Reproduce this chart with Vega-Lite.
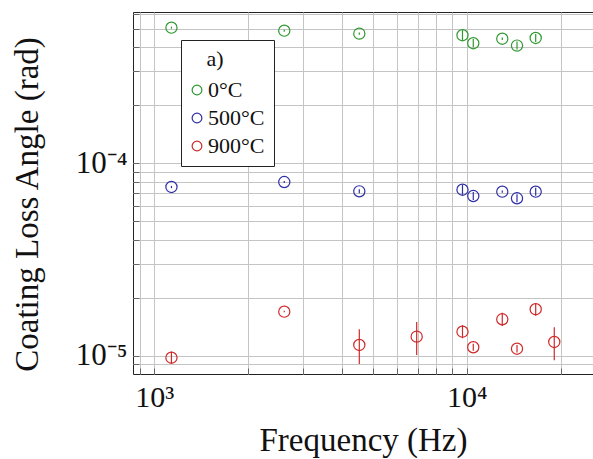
{
  "$schema": "https://vega.github.io/schema/vega-lite/v6.json",
  "width": 460,
  "height": 362,
  "autosize": "none",
  "padding": {"left": 133, "top": 12, "right": 0, "bottom": 85},
  "background": "white",
  "config": {
    "view": {"stroke": "#222222", "strokeWidth": 1},
    "font": "Liberation Serif"
  },
  "data": {
    "values": [
      {"temp": "0°C", "freq": 1135, "loss": 5.07e-4, "lo": 5.01e-4, "hi": 5.13e-4},
      {"temp": "0°C", "freq": 2607, "loss": 4.89e-4, "lo": 4.83e-4, "hi": 4.95e-4},
      {"temp": "0°C", "freq": 4532, "loss": 4.72e-4, "lo": 4.66e-4, "hi": 4.78e-4},
      {"temp": "0°C", "freq": 9696, "loss": 4.63e-4, "lo": 4.36e-4, "hi": 4.92e-4},
      {"temp": "0°C", "freq": 10498, "loss": 4.21e-4, "lo": 4.01e-4, "hi": 4.42e-4},
      {"temp": "0°C", "freq": 13000, "loss": 4.44e-4, "lo": 4.38e-4, "hi": 4.50e-4},
      {"temp": "0°C", "freq": 14490, "loss": 4.09e-4, "lo": 3.90e-4, "hi": 4.29e-4},
      {"temp": "0°C", "freq": 16630, "loss": 4.48e-4, "lo": 4.27e-4, "hi": 4.70e-4},
      {"temp": "500°C", "freq": 1135, "loss": 7.53e-5, "lo": 7.43e-5, "hi": 7.63e-5},
      {"temp": "500°C", "freq": 2607, "loss": 7.99e-5, "lo": 7.89e-5, "hi": 8.09e-5},
      {"temp": "500°C", "freq": 4532, "loss": 7.15e-5, "lo": 6.98e-5, "hi": 7.32e-5},
      {"temp": "500°C", "freq": 9696, "loss": 7.29e-5, "lo": 6.86e-5, "hi": 7.74e-5},
      {"temp": "500°C", "freq": 10498, "loss": 6.76e-5, "lo": 6.44e-5, "hi": 7.09e-5},
      {"temp": "500°C", "freq": 13000, "loss": 7.12e-5, "lo": 7.03e-5, "hi": 7.21e-5},
      {"temp": "500°C", "freq": 14490, "loss": 6.58e-5, "lo": 6.27e-5, "hi": 6.90e-5},
      {"temp": "500°C", "freq": 16630, "loss": 7.12e-5, "lo": 6.79e-5, "hi": 7.47e-5},
      {"temp": "900°C", "freq": 1135, "loss": 9.76e-6, "lo": 9.13e-6, "hi": 1.05e-5},
      {"temp": "900°C", "freq": 2607, "loss": 1.693e-5, "lo": 1.68e-5, "hi": 1.71e-5},
      {"temp": "900°C", "freq": 4532, "loss": 1.137e-5, "lo": 9.05e-6, "hi": 1.372e-5},
      {"temp": "900°C", "freq": 6918, "loss": 1.256e-5, "lo": 1.008e-5, "hi": 1.497e-5},
      {"temp": "900°C", "freq": 9696, "loss": 1.333e-5, "lo": 1.232e-5, "hi": 1.444e-5},
      {"temp": "900°C", "freq": 10498, "loss": 1.106e-5, "lo": 1.06e-5, "hi": 1.155e-5},
      {"temp": "900°C", "freq": 13000, "loss": 1.546e-5, "lo": 1.427e-5, "hi": 1.673e-5},
      {"temp": "900°C", "freq": 14490, "loss": 1.087e-5, "lo": 1.04e-5, "hi": 1.135e-5},
      {"temp": "900°C", "freq": 16630, "loss": 1.743e-5, "lo": 1.614e-5, "hi": 1.872e-5},
      {"temp": "900°C", "freq": 19070, "loss": 1.178e-5, "lo": 9.46e-6, "hi": 1.405e-5}
    ]
  },
  "encoding": {
    "x": {
      "field": "freq",
      "type": "quantitative",
      "scale": {"type": "log", "domain": [855, 25370], "nice": false},
      "axis": {
        "values": [900, 1000, 2000, 3000, 4000, 5000, 6000, 7000, 8000, 9000, 10000, 20000],
        "labelExpr": "datum.value == 1000 ? '10³' : (datum.value == 10000 ? '10⁴' : '')",
        "grid": true,
        "gridColor": "#c4c4c4",
        "gridWidth": 1,
        "ticks": true,
        "tickSize": -6,
        "tickColor": "#666666",
        "tickWidth": 1,
        "domain": false,
        "labelFont": "Liberation Serif",
        "labelFontSize": 30,
        "labelColor": "#111111",
        "labelBaseline": "alphabetic",
        "labelPadding": 38,
        "labelFlush": false,
        "labelOverlap": false,
        "title": "Frequency (Hz)",
        "titleFont": "Liberation Serif",
        "titleFontSize": 33,
        "titleFontWeight": "normal",
        "titleColor": "#111111",
        "titleBaseline": "alphabetic",
        "titleY": 76
      }
    },
    "y": {
      "field": "loss",
      "type": "quantitative",
      "scale": {"type": "log", "domain": [8.03e-6, 6.115e-4], "nice": false},
      "axis": {
        "values": [0.000009, 0.00001, 0.00002, 0.00003, 0.00004, 0.00005, 0.00006, 0.00007, 0.00008, 0.00009, 0.0001, 0.0002, 0.0003, 0.0004, 0.0005, 0.0006],
        "labelExpr": "datum.value == 0.0001 ? '10⁻⁴' : (datum.value == 0.00001 ? '10⁻⁵' : '')",
        "grid": true,
        "gridColor": "#c4c4c4",
        "gridWidth": 1,
        "ticks": true,
        "tickSize": -6,
        "tickColor": "#666666",
        "tickWidth": 1,
        "domain": false,
        "labelFont": "Liberation Serif",
        "labelFontSize": 31,
        "labelColor": "#111111",
        "labelPadding": 12,
        "labelBaseline": "middle",
        "labelFlush": false,
        "labelOverlap": false,
        "title": "Coating Loss Angle (rad)",
        "titleFont": "Liberation Serif",
        "titleFontSize": 33,
        "titleFontWeight": "normal",
        "titleColor": "#111111",
        "titleAngle": 270,
        "titleAlign": "center",
        "titleBaseline": "alphabetic",
        "titleX": -96,
        "titleY": 192
      }
    },
    "color": {
      "field": "temp",
      "type": "nominal",
      "sort": ["0°C", "500°C", "900°C"],
      "scale": {"domain": ["0°C", "500°C", "900°C"], "range": ["#2d982d", "#2e2ea6", "#d02828"]},
      "legend": {
        "title": "\u200b\u00a0\u00a0\u00a0a)",
        "orient": "none",
        "legendX": 48,
        "legendY": 28,
        "direction": "vertical",
        "strokeColor": "#222222",
        "fillColor": "white",
        "padding": 9,
        "titleFont": "Liberation Serif",
        "titleFontSize": 22,
        "titleFontWeight": "normal",
        "titleColor": "#111111",
        "titlePadding": 8,
        "labelFont": "Liberation Serif",
        "labelFontSize": 22,
        "labelColor": "#111111",
        "labelOffset": 0,
        "symbolOffset": -4,
        "symbolType": "circle",
        "symbolSize": 95,
        "symbolStrokeWidth": 1.2,
        "symbolFillColor": "transparent",
        "rowPadding": 6
      }
    }
  },
  "layer": [
    {
      "mark": {"type": "rule", "strokeWidth": 1.2},
      "encoding": {
        "y": {"field": "lo", "type": "quantitative"},
        "y2": {"field": "hi"}
      }
    },
    {
      "mark": {"type": "point", "shape": "circle", "filled": false, "size": 125, "strokeWidth": 1.2, "opacity": 1},
      "encoding": {}
    }
  ]
}
